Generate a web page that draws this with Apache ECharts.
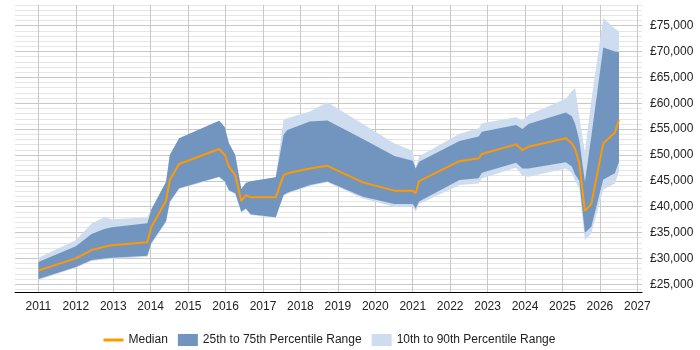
<!DOCTYPE html>
<html>
<head>
<meta charset="utf-8">
<script src="https://cdn.jsdelivr.net/npm/echarts@6/dist/echarts.min.js"></script>
<style>
html, body { margin: 0; padding: 0; background: #fff; }
#chart { width: 700px; height: 350px; }
</style>
</head>
<body>
<div id="chart"></div>
<script>
// dates as decimal years
var dates = [2011.0, 2012.0, 2012.42, 2012.76, 2012.96, 2013.91, 2014.02, 2014.41, 2014.51, 2014.76,
    2015.83, 2015.98, 2016.09, 2016.26, 2016.42, 2016.54, 2016.67, 2017.34, 2017.55, 2017.65,
    2018.25, 2018.72, 2019.67, 2020.51, 2021.0, 2021.08, 2021.17, 2022.25, 2022.76, 2022.85,
    2023.76, 2023.93, 2024.09, 2025.09, 2025.25, 2025.34, 2025.45, 2025.6, 2025.77, 2026.09,
    2026.4, 2026.51];
var p10 = [25800, 28200, 29500, 29800, 29900, 30300, 32800, 37000, 40800, 43400,
    45700, 44700, 43100, 42400, 38800, 39500, 38400, 37800, 42100, 42500,
    44000, 44700, 41600, 40000, 40000, 39000, 40500, 44200, 44500, 45500,
    47550, 46000, 45800, 47400, 46450, 45000, 43400, 33500, 34800, 43300,
    44500, 46800];
var p25 = [26000, 28350, 29700, 30000, 30100, 30500, 33000, 37200, 40950, 43550,
    45800, 44850, 43200, 42600, 39000, 39650, 38550, 37950, 42250, 42700,
    44200, 44850, 41900, 40500, 40500, 39650, 41000, 45150, 45500, 46550,
    48500, 47400, 47400, 48600, 47750, 46200, 45000, 34950, 36100, 45250,
    46450, 48700];
var p75 = [29300, 32350, 34700, 35700, 36000, 36800, 39500, 44800, 50000, 53250,
    56600, 55350, 52250, 50000, 43400, 44600, 44900, 45700, 53900, 54850,
    56450, 56650, 53100, 49800, 48900, 47400, 48700, 52700, 53550, 54500,
    55800, 55000, 56000, 58200, 57500, 56000, 52800, 44800, 53500, 70800,
    70000, 69900];
var p90 = [30100, 33500, 36750, 37950, 37550, 37900, 39500, 44800, 50000, 53250,
    56600, 55350, 52250, 50000, 43400, 44600, 44900, 45700, 56800, 57100,
    58400, 60200, 56000, 52200, 50800, 47400, 49700, 54100, 55150, 56150,
    57300, 56650, 57750, 60850, 62300, 62900, 57400, 50500, 60500, 76500,
    74400, 73900];
var median = [27650, 30000, 31600, 32250, 32550, 33100, 36100, 41150, 45150, 48250,
    51150, 50000, 47750, 46100, 41100, 42250, 41800, 41800, 46100, 46450,
    47400, 47900, 44700, 43100, 43100, 42600, 44950, 48800, 49350, 50200,
    52050, 50950, 51600, 53250, 52250, 51100, 48400, 39200, 40500, 52250,
    54300, 56800];

var darkBand = '#7195bf';
var lightBand = '#cddcee';

function pairs(vals) {
    return dates.map(function (d, i) { return [d, vals[i]]; });
}
function bandData(lo, hi) {
    return dates.map(function (d, i) { return [d, lo[i], hi[i]]; });
}

// draws the whole band as one polygon, upper edge then lower edge back
function bandRender(lo, hi, color) {
    return function (params, api) {
        if (params.dataIndex !== 0) return;
        var pts = [];
        for (var i = 0; i < dates.length; i++) pts.push(api.coord([dates[i], hi[i]]));
        for (var j = dates.length - 1; j >= 0; j--) pts.push(api.coord([dates[j], lo[j]]));
        return {
            type: 'polygon',
            shape: { points: pts },
            style: { fill: color, stroke: null }
        };
    };
}

var chart = echarts.init(document.getElementById('chart'));

// one visible line out of every 8 / 10 ticks
var xGrid = ['rgba(0,0,0,0)', 'rgba(0,0,0,0)', 'rgba(0,0,0,0)', 'rgba(0,0,0,0)', 'rgba(0,0,0,0)', '#c8c8c8', 'rgba(0,0,0,0)', 'rgba(0,0,0,0)'];
var yGrid = ['rgba(0,0,0,0)', '#e6e6e6', 'rgba(0,0,0,0)', '#c8c8c8', 'rgba(0,0,0,0)', '#e6e6e6', 'rgba(0,0,0,0)', '#e6e6e6', 'rgba(0,0,0,0)', '#e6e6e6'];

var font = 'Arial, "Liberation Sans", sans-serif';

chart.setOption({
    animation: false,
    textStyle: { fontFamily: font },
    grid: { left: 15, right: 58, top: 5, bottom: 58 },
    legend: {
        left: 97,
        top: 329,
        itemWidth: 20,
        itemHeight: 12,
        itemGap: 10,
        textStyle: { fontSize: 12, color: '#222', fontFamily: font },
        data: [
            { name: 'Median', itemStyle: { opacity: 0 }, lineStyle: { width: 3 } },
            { name: '25th to 75th Percentile Range', icon: 'rect' },
            { name: '10th to 90th Percentile Range', icon: 'rect' }
        ]
    },
    xAxis: {
        type: 'value',
        min: 2010.375,
        max: 2027.125,
        interval: 0.125,
        axisLine: { show: true, lineStyle: { color: '#000', width: 1 } },
        axisTick: { show: false },
        axisLabel: {
            interval: 0,
            color: '#222',
            fontSize: 12,
            margin: 9,
            formatter: function (v) {
                return Math.abs(v - Math.round(v)) < 1e-6 ? String(Math.round(v)) : '';
            }
        },
        splitLine: { show: true, lineStyle: { color: xGrid, width: 1 } }
    },
    yAxis: {
        type: 'value',
        position: 'right',
        min: 23500,
        max: 79000,
        interval: 500,
        axisLine: { show: false },
        axisTick: { show: false },
        axisLabel: {
            interval: 0,
            color: '#222',
            fontSize: 12,
            margin: 8,
            formatter: function (v) {
                return v % 5000 === 0 ? '£' + v.toLocaleString('en-GB') : '';
            }
        },
        splitLine: { show: true, lineStyle: { color: yGrid, width: 1 } }
    },
    series: [
        {
            name: '10th to 90th Percentile Range',
            type: 'custom',
            itemStyle: { color: lightBand },
            encode: { x: 0, y: [1, 2] },
            renderItem: bandRender(p10, p90, lightBand),
            data: bandData(p10, p90),
            z: 2
        },
        {
            name: '25th to 75th Percentile Range',
            type: 'custom',
            itemStyle: { color: darkBand },
            encode: { x: 0, y: [1, 2] },
            renderItem: bandRender(p25, p75, darkBand),
            data: bandData(p25, p75),
            z: 3
        },
        {
            name: 'Median',
            type: 'line',
            symbol: 'none',
            color: '#ff9900',
            lineStyle: { color: '#ff9900', width: 2 },
            z: 5,
            data: pairs(median)
        }
    ]
});
</script>
</body>
</html>
